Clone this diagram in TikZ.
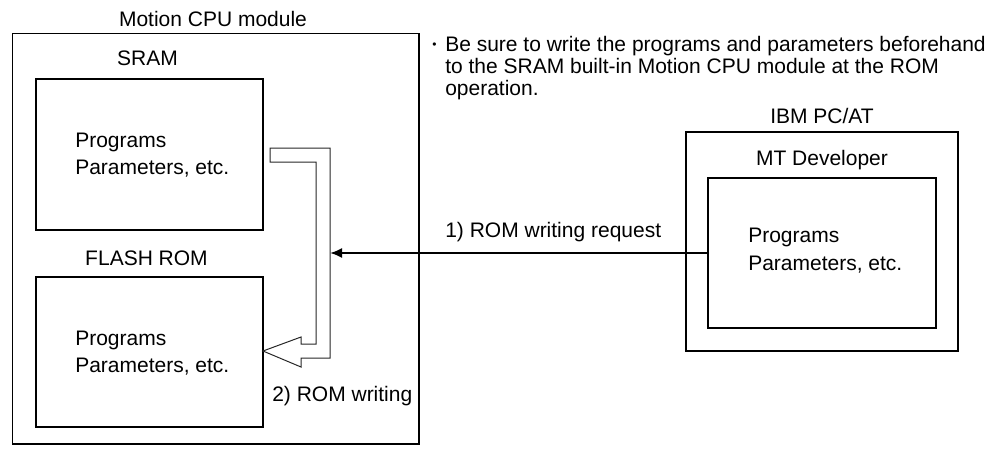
\documentclass[tikz,border=0pt]{standalone}
\usepackage{fontspec}
\setmainfont{Liberation Sans}
\usetikzlibrary{arrows.meta,fit}
\begin{document}
\begin{tikzpicture}[x=.75pt,y=-.75pt,line cap=round,
    box/.style={draw,line width=1pt,inner sep=0pt,outer sep=0pt},
    txt/.style={anchor=base west,inner sep=0pt},
    ttl/.style={anchor=base,inner sep=0pt},
    font=\fontsize{15.75}{17}\selectfont]
  \useasboundingbox (0,0) rectangle (1005,450);
  % Motion CPU module with its two memories
  \node[box,fit={(12.5,33.5) (419,444)}] (motion) {};
  \node[box,fit={(36,79) (263,230)}] (sram) {};
  \node[box,fit={(36,277) (263,427)}] (flash) {};
  \node[ttl] (motion-lbl) at (213,26) {Motion CPU module};
  \node[ttl] (sram-lbl) at (147.5,65) {SRAM};
  \node[ttl] (flash-lbl) at (146.5,265) {FLASH ROM};
  \node[txt] (sram-p1) at (75,147) {Programs};
  \node[txt] (sram-p2) at (75,174) {Parameters, etc.};
  \node[txt] (flash-p1) at (75,345) {Programs};
  \node[txt] (flash-p2) at (75,372) {Parameters, etc.};
  % personal computer with the software
  \node[box,fit={(686,132) (958,351)}] (ibm) {};
  \node[box,fit={(708,178) (936,328)}] (mt) {};
  \node[ttl] (ibm-lbl) at (822,123) {IBM PC/AT};
  \node[ttl] (mt-lbl) at (822,165) {MT Developer};
  \node[txt] (mt-p1) at (748,242) {Programs};
  \node[txt] (mt-p2) at (748,270) {Parameters, etc.};
  % note
  \node[txt,font=\fontsize{9}{10}\selectfont] (note-dot) at (432,48) {•};
  \node[txt] (note1) at (445,51) {Be sure to write the programs and parameters beforehand};
  \node[txt] (note2) at (445,73) {to the SRAM built-in Motion CPU module at the ROM};
  \node[txt] (note3) at (445,95) {operation.};
  % hollow arrow SRAM -> FLASH ROM
  \draw[line width=.75pt,black!85,line join=miter]
    (270,148) -- (330,148) -- (330,358) -- (301,358) -- (301,367) -- (flash.east |- 0,351)
    -- (301,337) -- (301,344) -- (316,344) -- (316,162) -- (270,162) -- cycle;
  \coordinate (hollow-r) at (330,253);
  \draw[line width=1.5pt,-{Latex[length=9pt,width=7.5pt]}] (mt.west) -- (hollow-r);
  \node[txt] (req-lbl) at (445,237) {1) ROM writing request};
  \node[txt] (wr-lbl) at (272,401) {2) ROM writing};
\end{tikzpicture}
\end{document}
